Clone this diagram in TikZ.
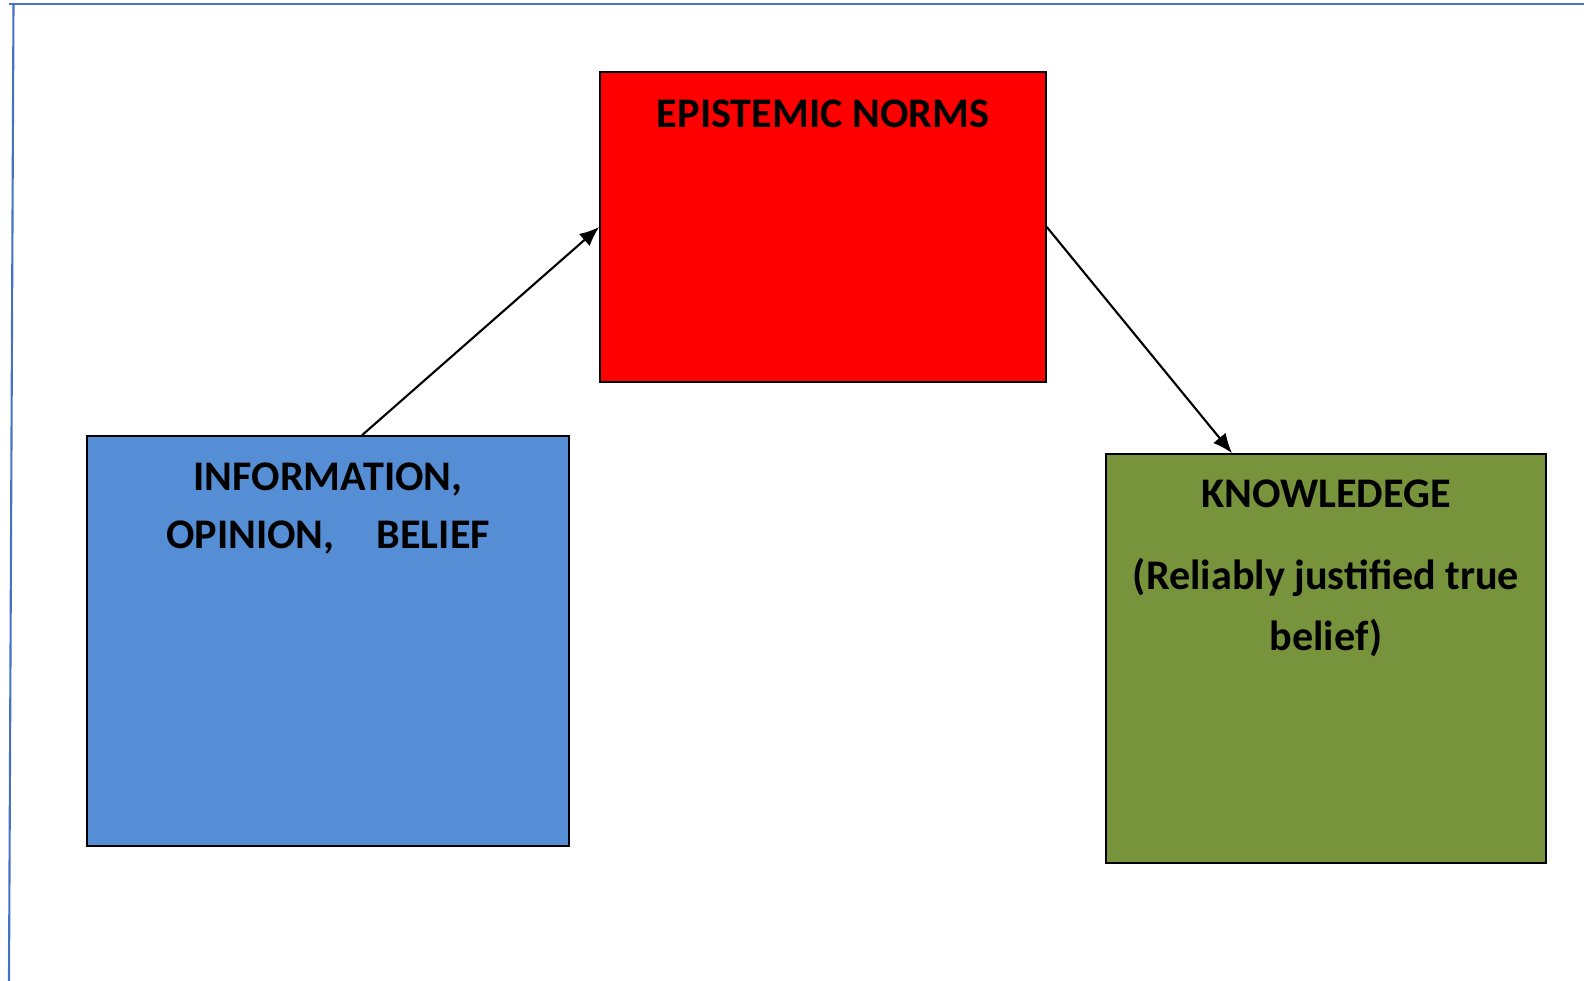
\documentclass[tikz,border=0pt]{standalone}
\usepackage{fontspec}
\setmainfont{Carlito}
\usetikzlibrary{arrows.meta,positioning}

\definecolor{framecol}{RGB}{68,114,196}
\definecolor{normsred}{RGB}{255,0,0}
\definecolor{infoblue}{RGB}{85,142,213}
\definecolor{knowgreen}{RGB}{119,147,60}

\begin{document}
\begin{tikzpicture}[x=0.1mm, y=-0.1mm,
    box/.style={draw=black, line width=0.45pt, rectangle, inner sep=0pt},
    title/.style={anchor=base, align=center, font=\fontsize{12}{16.4}\selectfont\bfseries},
    link/.style={-{Latex[length=5.6pt,width=4.6pt]}, line width=0.6pt}]
  \useasboundingbox (0,0) rectangle (1584,981);
  % page frame
  \draw[framecol, line width=0.6pt] (9,4) -- (1584,4);
  \draw[framecol, line width=0.6pt] (13.5,4) -- (9,981);
%
  \node[box, fill=normsred, minimum width=44.6mm, minimum height=31mm] (norms) at (823,227) {};
  \node[box, fill=infoblue, minimum width=48.2mm, minimum height=41mm] (info) at (328,641) {};
  \node[box, fill=knowgreen, minimum width=44mm, minimum height=40.9mm] (know) at (1326,658.5) {};
%
  % multi-line titles sit on the baseline of their last line
  \node[title] (normstitle) at (823,128) {EPISTEMIC NORMS};
  \node[title] (infotitle) at (328,548) {INFORMATION,\\OPINION,\hspace{12pt}BELIEF};
  \node[title] (knowtitle) at (1326,507) {KNOWLEDEGE};
  \node[title, font=\fontsize{12}{17.1}\selectfont\bfseries] (knownote) at (1326,650) {(Reliably justified true\\belief)};
%
  \draw[link] ([xshift=3.4mm]info.north) -- (norms.west);
  \draw[link] (norms.east) -- ([xshift=-9.4mm]know.north);
\end{tikzpicture}
\end{document}
